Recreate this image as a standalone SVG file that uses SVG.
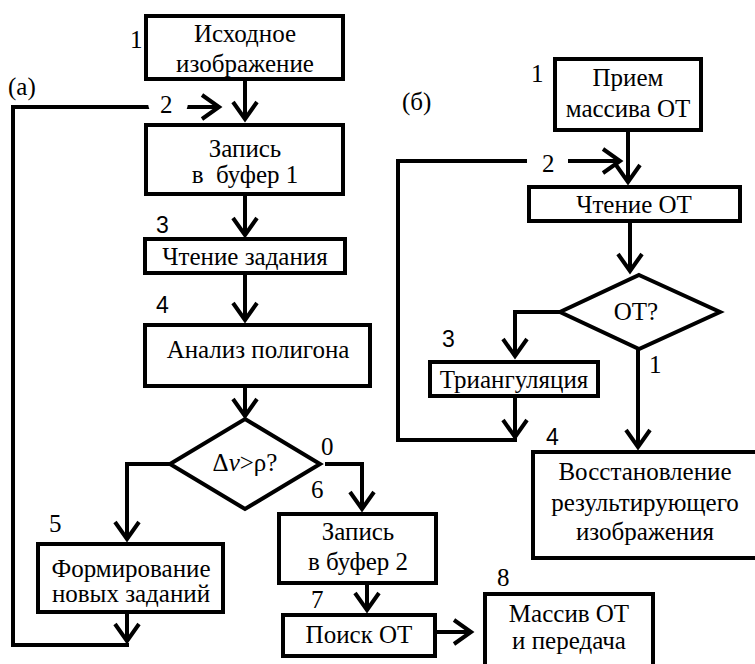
<svg xmlns="http://www.w3.org/2000/svg" width="755" height="664" viewBox="0 0 755 664">
<style>
.box{fill:#fff;stroke:#000;stroke-width:4}
.dia{fill:#fff;stroke:#000;stroke-width:4;stroke-linejoin:miter}
.t{font-family:'Liberation Serif','Tinos','Times New Roman','DejaVu Serif','Noto Serif',serif;font-size:25px;fill:#000;text-anchor:middle}
.n{font-family:'Liberation Serif','Tinos','Times New Roman','DejaVu Serif','Noto Serif',serif;font-size:25px;fill:#000}
.ns{font-family:'Liberation Sans',Arial,sans-serif;font-size:23px;fill:#000}
.c{fill:none;stroke:#000;stroke-width:4}
.a{fill:none;stroke:#000;stroke-width:4;marker-end:url(#ah)}
</style>
<defs>
<marker id="ah" markerUnits="userSpaceOnUse" viewBox="-24 -16 28 32" markerWidth="28" markerHeight="32" refX="0" refY="0" orient="auto" overflow="visible">
<path d="M-17,-12 L0,0 L-17,12" fill="none" stroke="#000" stroke-width="4" stroke-linejoin="miter"/>
</marker>
</defs>
<rect width="755" height="664" fill="#fff"/>

<g id="connectors">
<path class="a" d="M245,81 V119"/>
<path class="c" d="M129,645 H13 V107 H153"/>
<path class="a" d="M185,107 H219"/>
<path class="a" d="M245,196 V235"/>
<path class="a" d="M245,275 V320"/>
<path class="a" d="M245,388 V416"/>
<path class="a" d="M170,464 H127 V539"/>
<path class="a" d="M325,464 H362 V509"/>
<path class="a" d="M127,614 V641"/>
<path class="a" d="M367,585 V610"/>
<path class="a" d="M437,632 H471"/>
<path class="a" d="M628,132 V182"/>
<path class="c" d="M517,440 H398 V161 H527"/>
<path class="a" d="M568,161 H620"/>
<path class="a" d="M630,223 V271"/>
<path class="a" d="M560,312 H515 V356"/>
<path class="a" d="M515,398 V437"/>
<path class="a" d="M638,349 V447"/>
</g>

<g id="n1a">
<rect class="box" x="146" y="16" width="197" height="63"/>
<text class="t" x="245" y="42" font-family="Liberation Serif, DejaVu Serif, serif">Исходное</text>
<text class="t" x="245" y="72">изображение</text>
</g>
<g id="n2a">
<rect class="box" x="146" y="125" width="197" height="69"/>
<text class="t" x="245" y="157">Запись</text>
<text class="t" x="245" y="183" xml:space="preserve">в  буфер 1</text>
</g>
<g id="n3a">
<rect class="box" x="145" y="239" width="200" height="34"/>
<text class="t" x="245" y="265">Чтение задания</text>
</g>
<g id="n4a">
<rect class="box" x="145" y="325" width="225" height="61"/>
<text class="t" x="258" y="358">Анализ полигона</text>
</g>
<g id="d1a">
<polygon class="dia" points="245,419 320,464 245,509 170,464"/>
<text class="t" x="245" y="471">Δ<tspan font-style="italic">v</tspan>&gt;ρ?</text>
</g>
<g id="n5a">
<rect class="box" x="38" y="544" width="185" height="68"/>
<text class="t" x="131" y="577">Формирование</text>
<text class="t" x="131" y="602">новых заданий</text>
</g>
<g id="n6a">
<rect class="box" x="279" y="514" width="157" height="69"/>
<text class="t" x="358" y="540">Запись</text>
<text class="t" x="358" y="570">в буфер 2</text>
</g>
<g id="n7a">
<rect class="box" x="283" y="615" width="152" height="41"/>
<text class="t" x="359" y="643">Поиск ОТ</text>
</g>
<g id="n8a">
<rect class="box" x="485" y="594" width="168" height="90"/>
<text class="t" x="569" y="622">Массив ОТ</text>
<text class="t" x="569" y="649">и передача</text>
</g>

<g id="n1b">
<rect class="box" x="555" y="59" width="146" height="71"/>
<text class="t" x="628" y="86">Прием</text>
<text class="t" x="628" y="117">массива ОТ</text>
</g>
<g id="n2b">
<rect class="box" x="529" y="187" width="211" height="34"/>
<text class="t" x="634" y="213">Чтение ОТ</text>
</g>
<g id="d1b">
<polygon class="dia" points="639,275 720,312 639,349 560,312"/>
<text class="t" x="636" y="320">ОТ?</text>
</g>
<g id="n3b">
<rect class="box" x="430" y="362" width="168" height="34"/>
<text class="t" x="514" y="388">Триангуляция</text>
</g>
<g id="n4b">
<rect class="box" x="533" y="452" width="230" height="106"/>
<text class="t" x="645" y="480">Восстановление</text>
<text class="t" x="645" y="511">результирующего</text>
<text class="t" x="645" y="540">изображения</text>
</g>

<g id="labels">
<circle cx="168" cy="102" r="20" fill="#fff"/>
<text class="n" x="160" y="113">2</text>
<text class="n" x="130" y="48">1</text>
<text class="n" x="8" y="95">(а)</text>
<text class="ns" x="156" y="233">3</text>
<text class="ns" x="156" y="313">4</text>
<text class="n" x="49" y="532">5</text>
<text class="n" x="321" y="455">0</text>
<text class="n" x="311" y="498">6</text>
<text class="n" x="311" y="608">7</text>
<text class="n" x="497" y="586">8</text>
<text class="n" x="402" y="110">(б)</text>
<text class="n" x="531" y="82">1</text>
<text class="n" x="542" y="172">2</text>
<text class="ns" x="442" y="347">3</text>
<text class="n" x="649" y="373">1</text>
<text class="ns" x="546" y="445">4</text>
</g>
</svg>
